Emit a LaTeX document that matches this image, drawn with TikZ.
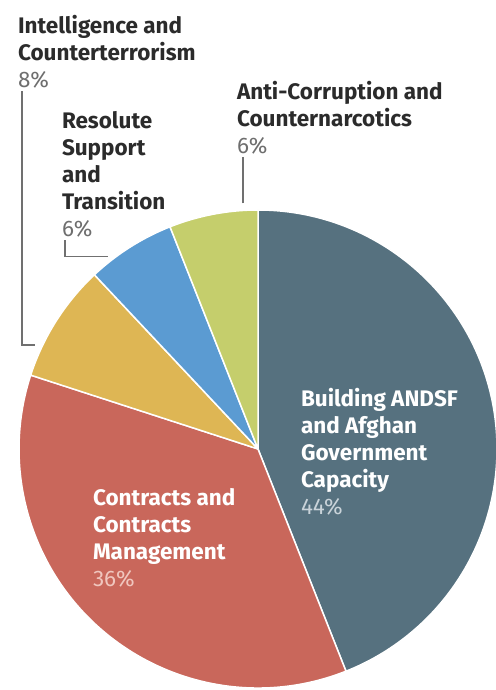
\documentclass[tikz,border=0pt]{standalone}
\usepackage{fontspec}
\setmainfont{Fira Sans}
\definecolor{andsf}{HTML}{56717F}
\definecolor{contr}{HTML}{C9675B}
\definecolor{intel}{HTML}{DEB654}
\definecolor{resol}{HTML}{5B9BD2}
\definecolor{anti}{HTML}{C5CE6C}
\definecolor{txtdark}{HTML}{2B2B2B}
\definecolor{pctgray}{HTML}{6E6E6E}
\definecolor{leadgray}{HTML}{707070}
\begin{document}
\begin{tikzpicture}[x=1pt,y=1pt,inner sep=0pt,outer sep=0pt,
slice/.style={draw=white,line width=1.5pt,line join=round},
lbl/.style={anchor=north west,align=left,text=txtdark,font=\fontsize{22.5}{27}\selectfont\bfseries},
inlbl/.style={lbl,text=white},
leader/.style={draw=leadgray,line width=1.2pt}]
\useasboundingbox (0,0) rectangle (495,690);
\coordinate (c) at (258,241);
% slices, clockwise from the top
\draw[slice,fill=andsf] (c) -- ++(90:239) arc[start angle=90,end angle=-68.4,radius=239] -- cycle;
\draw[slice,fill=contr] (c) -- ++(-68.4:239) arc[start angle=-68.4,end angle=-198,radius=239] -- cycle;
\draw[slice,fill=intel] (c) -- ++(-198:239) arc[start angle=-198,end angle=-226.8,radius=239] -- cycle;
\draw[slice,fill=resol] (c) -- ++(-226.8:239) arc[start angle=-226.8,end angle=-248.4,radius=239] -- cycle;
\draw[slice,fill=anti] (c) -- ++(-248.4:239) arc[start angle=-248.4,end angle=-270,radius=239] -- cycle;
% labels
\node[lbl] (intellbl) at (18,674.5) {Intelligence and\\Counterterrorism\\{\mdseries\color{pctgray}8\%}};
\node[lbl] (antilbl) at (237,608.5) {Anti-Corruption and\\Counternarcotics\\{\mdseries\color{pctgray}6\%}};
\node[lbl] (resollbl) at (62,578.5) {Resolute\\Support\\and\\Transition\\{\mdseries\color{pctgray}6\%}};
\node[inlbl] (andsflbl) at (301,301.5) {Building ANDSF\\and Afghan\\Government\\Capacity\\{\mdseries\color[HTML]{C9D3D9}44\%}};
\node[inlbl] (contrlbl) at (93,201.5) {Contracts and\\Contracts\\Management\\{\mdseries\color[HTML]{F0C6BE}36\%}};
% leader lines
\path (c) ++(155:246) coordinate (ie);
\path (c) ++(128:244) coordinate (re);
\path (c) ++(93.5:246) coordinate (ae);
\draw[leader] ([xshift=4pt,yshift=-3pt]intellbl.south west) |- (ie);
\draw[leader] ([xshift=3pt,yshift=-3pt]resollbl.south west) |- (re);
\draw[leader] (ae) -- ([yshift=-3pt]ae |- antilbl.south);
\end{tikzpicture}
\end{document}
